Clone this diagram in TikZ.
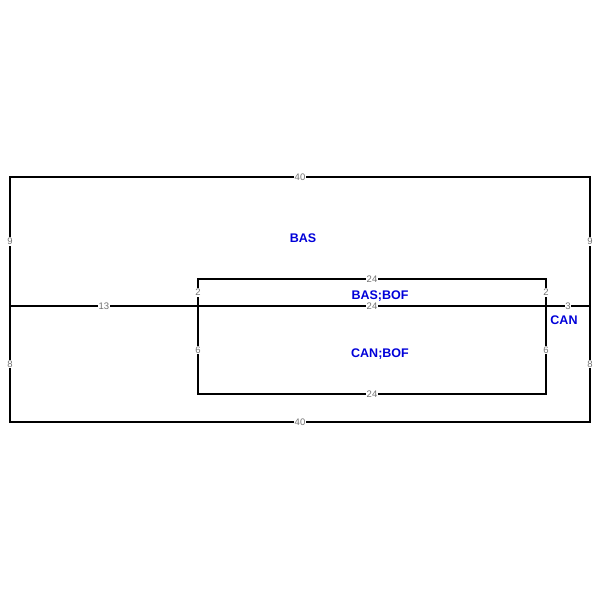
\documentclass[tikz,border=0pt]{standalone}
\usepackage{fontspec}
\setmainfont{Liberation Sans}
\begin{document}
\begin{tikzpicture}[x=1pt,y=-1pt,
  wall/.style={line width=2.2pt,line cap=rect},
  dim/.style={fill=white,inner sep=0.8pt,text=black!55,font=\fontsize{9.5}{9.5}\selectfont},
  room/.style={text=blue!85!black,font=\bfseries\fontsize{12.5}{12.5}\selectfont}]
\useasboundingbox (0,0) rectangle (600,600);
\coordinate (OTL) at (10,177);
\coordinate (OTR) at (590,177);
\coordinate (OBL) at (10,422);
\coordinate (OBR) at (590,422);
\coordinate (ML) at (10,306);
\coordinate (MR) at (590,306);
\coordinate (ITL) at (198,279);
\coordinate (ITR) at (546,279);
\coordinate (IBL) at (198,394);
\coordinate (IBR) at (546,394);
\coordinate (IML) at (198,306);
\coordinate (IMR) at (546,306);
% outer
\draw[wall] (OTL) -- node[dim] (d40a) {40} (OTR);
\draw[wall] (OBL) -- node[dim] (d40b) {40} (OBR);
\draw[wall] (OTL) -- node[dim] (d9a) {9} (ML);
\draw[wall] (ML) -- node[dim] (d8a) {8} (OBL);
\draw[wall] (OTR) -- node[dim] (d9b) {9} (MR);
\draw[wall] (MR) -- node[dim] (d8b) {8} (OBR);
% middle line
\draw[wall] (ML) -- node[dim] (d13) {13} (IML);
\draw[wall] (IML) -- node[dim] (d24m) {24} (IMR);
\draw[wall] (IMR) -- node[dim] (d3) {3} (MR);
% inner
\draw[wall] (ITL) -- node[dim] (d24t) {24} (ITR);
\draw[wall] (IBL) -- node[dim] (d24b) {24} (IBR);
\draw[wall] (ITL) -- node[dim] (d2a) {2} (IML);
\draw[wall] (IML) -- node[dim] (d6a) {6} (IBL);
\draw[wall] (ITR) -- node[dim] (d2b) {2} (IMR);
\draw[wall] (IMR) -- node[dim] (d6b) {6} (IBR);
% room labels
\node[room] (bas) at (303,238) {BAS};
\node[room] (basbof) at (380,296) {BAS;BOF};
\node[room] (canbof) at (380,354) {CAN;BOF};
\node[room] (can) at (564,320) {CAN};
\end{tikzpicture}
\end{document}
